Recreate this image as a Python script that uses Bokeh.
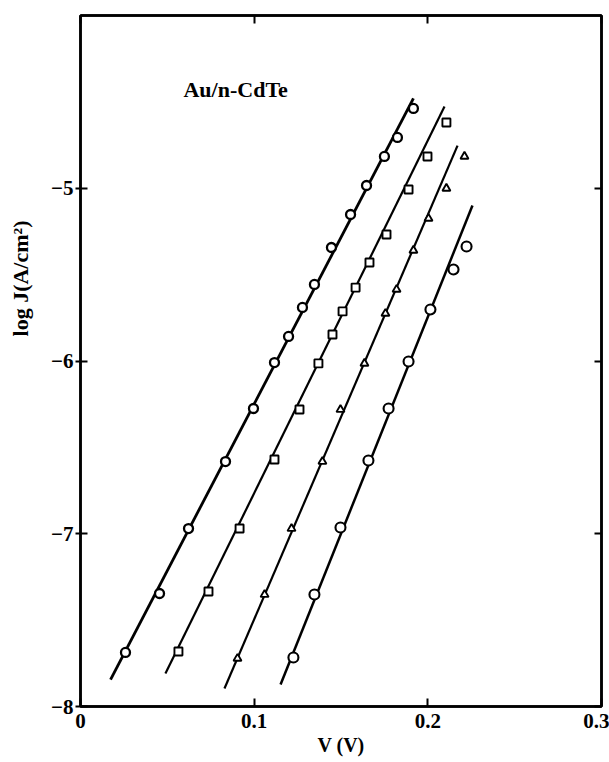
from bokeh.plotting import figure
from bokeh.models import LinearAxis, FixedTicker, Label, Range1d
from bokeh.embed import file_html
from bokeh.resources import INLINE

# ---- data ----
v1 = [0.0259, 0.0455, 0.0622, 0.0835, 0.0996, 0.1117, 0.1198, 0.1278, 0.1347, 0.1445, 0.1555, 0.1647, 0.1750, 0.1825, 0.1917]
j1 = [-7.687, -7.346, -6.970, -6.582, -6.275, -6.009, -5.858, -5.690, -5.557, -5.343, -5.152, -4.984, -4.816, -4.706, -4.538]
fit_v1 = [0.0173, 0.1917]
fit_j1 = [-7.844, -4.480]

v2 = [0.0564, 0.0737, 0.0916, 0.1117, 0.1261, 0.1370, 0.1451, 0.1509, 0.1584, 0.1664, 0.1762, 0.1889, 0.1998, 0.2107]
j2 = [-7.682, -7.334, -6.970, -6.570, -6.281, -6.014, -5.847, -5.713, -5.575, -5.430, -5.268, -5.007, -4.816, -4.619]
fit_v2 = [0.0489, 0.2096]
fit_j2 = [-7.809, -4.527]

v3 = [0.0904, 0.1060, 0.1215, 0.1393, 0.1497, 0.1635, 0.1756, 0.1820, 0.1917, 0.2004, 0.2107, 0.2211]
j3 = [-7.722, -7.352, -6.970, -6.582, -6.281, -6.014, -5.725, -5.586, -5.360, -5.175, -5.001, -4.816]
fit_v3 = [0.0829, 0.2171]
fit_j3 = [-7.896, -4.753]

v4 = [0.1226, 0.1347, 0.1497, 0.1658, 0.1774, 0.1889, 0.2015, 0.2148, 0.2223]
j4 = [-7.716, -7.352, -6.964, -6.576, -6.275, -6.003, -5.702, -5.470, -5.337]
fit_v4 = [0.1152, 0.2257]
fit_j4 = [-7.873, -5.100]

xticks = [0, 0.1, 0.2, 0.3]
xtick_labels = ["0", "0.1", "0.2", "0.3"]
yticks = [-8, -7, -6, -5]
ytick_labels = ["\u22128", "\u22127", "\u22126", "\u22125"]

FONT = "Liberation Serif"

p = figure(width=609, height=762, x_range=Range1d(0, 0.3), y_range=Range1d(-8, -4),
           output_backend="svg", toolbar_location=None,
           min_border_left=80, min_border_right=8, min_border_top=15, min_border_bottom=56)
p.xgrid.visible = False
p.ygrid.visible = False
p.outline_line_color = "black"
p.outline_line_width = 2.5
p.background_fill_color = "white"
p.border_fill_color = "white"


def style_axis(ax, ticks, labels, tin, tout, standoff, size):
    ax.ticker = FixedTicker(ticks=ticks)
    ax.major_label_overrides = dict(zip(ticks, labels))
    ax.axis_line_color = "black"
    ax.axis_line_width = 2.5
    ax.major_tick_line_color = "black"
    ax.major_tick_line_width = 2
    ax.major_tick_in = tin
    ax.major_tick_out = tout
    ax.minor_tick_line_color = None
    ax.major_label_text_font = FONT
    ax.major_label_text_font_style = "bold"
    ax.major_label_text_color = "black"
    ax.major_label_standoff = standoff
    ax.major_label_text_font_size = size
    ax.axis_label_text_font = FONT
    ax.axis_label_text_font_style = "bold"
    ax.axis_label_text_color = "black"
    ax.axis_label_text_font_size = "20px"


xa = p.xaxis[0]
style_axis(xa, xticks, xtick_labels, 8, 0, 7, "21px")
xa.axis_label = "V (V)"
xa.axis_label_standoff = 3

ya = p.yaxis[0]
style_axis(ya, yticks, ytick_labels, 7, 5, 2, "21px")
ya.axis_label = "\u00a0" * 30 + "log J(A/cm\u00b2)"
ya.axis_label_text_font_size = "22px"
ya.axis_label_standoff = 15

top = LinearAxis()
style_axis(top, xticks, [""] * len(xticks), 8, 0, 0, "1px")
p.add_layout(top, "above")
right = LinearAxis()
style_axis(right, yticks, [""] * len(yticks), 7, 0, 0, "1px")
p.add_layout(right, "right")

# fitted lines
p.line(fit_v1, fit_j1, line_color="black", line_width=2.8)
p.line(fit_v2, fit_j2, line_color="black", line_width=2.2)
p.line(fit_v3, fit_j3, line_color="black", line_width=2.2)
p.line(fit_v4, fit_j4, line_color="black", line_width=2.5)

# data points
p.scatter(v1, j1, marker="circle", size=9, line_color="black", line_width=2.3, fill_color="white")
p.scatter(v2, j2, marker="square", size=8, line_color="black", line_width=1.9, fill_color="white")
p.scatter(v3, j3, marker="triangle", size=8, line_color="black", line_width=1.9, fill_color="white")
p.scatter(v4, j4, marker="circle", size=10, line_color="black", line_width=2.1, fill_color="white")

# in-plot label
p.add_layout(Label(x=0.0593, y=-4.43, text="Au/n-CdTe", text_font=FONT, text_font_style="bold",
                   text_font_size="22px", text_align="left", text_baseline="middle", text_color="black"))

open("out.html", "w").write(file_html(p, INLINE))
